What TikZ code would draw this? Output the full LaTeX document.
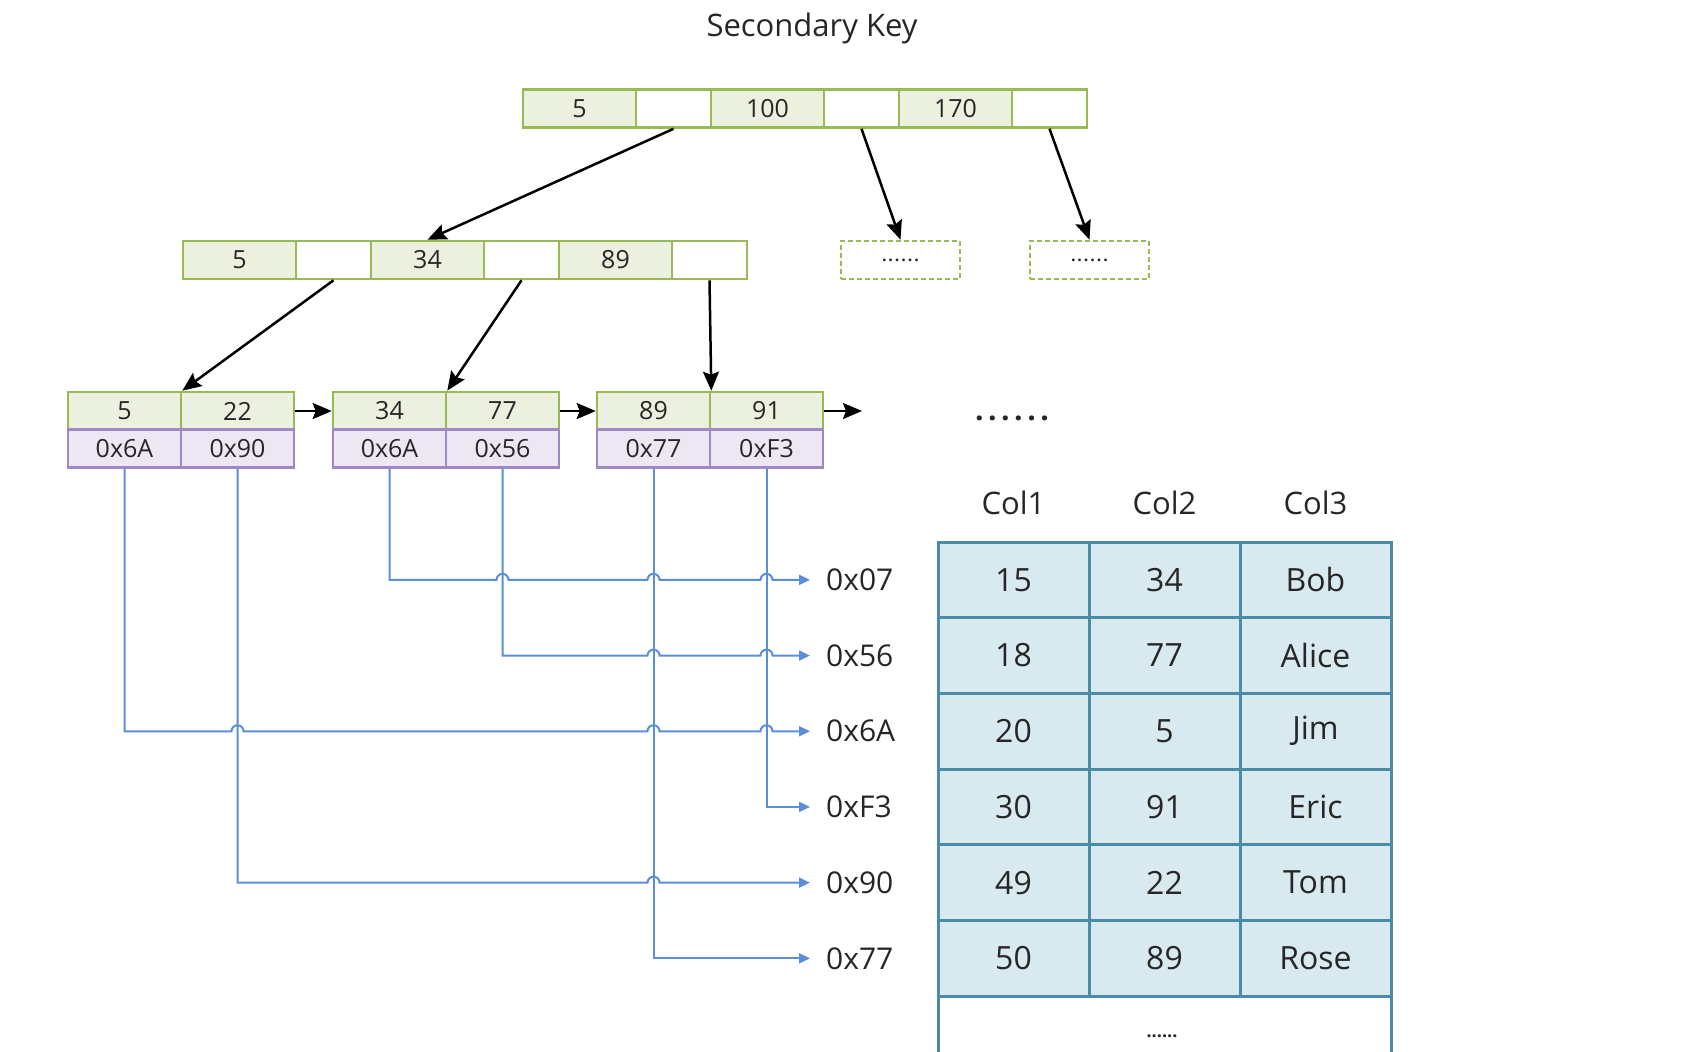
\documentclass[tikz,border=0pt]{standalone}
\usepackage{fontspec}
\setmainfont{Open Sans}
\usetikzlibrary{arrows.meta}
\definecolor{gfill}{HTML}{EBF1DE}
\definecolor{gborder}{HTML}{98B954}
\definecolor{pfill}{HTML}{ECE7F2}
\definecolor{pborder}{HTML}{9F88C4}
\definecolor{tfill}{HTML}{D8E9EF}
\definecolor{tborder}{HTML}{4A8BA5}
\definecolor{lblue}{HTML}{5B8DD9}
\definecolor{txt}{HTML}{262626}
\begin{document}
\begin{tikzpicture}[x=1pt,y=-1pt,
  cell/.style={draw=gborder,fill=gfill,line width=2.6pt,minimum width=113pt,minimum height=38pt,inner sep=0pt,font=\fontsize{25}{30}\selectfont,text=txt},
  blank/.style={cell,fill=white,minimum width=75pt},
  ptr/.style={cell,draw=pborder,fill=pfill},
  dbox/.style={draw=gborder,dash pattern=on 5pt off 3pt,line width=2.6pt,minimum width=119pt,minimum height=38pt,inner sep=0pt,text=txt},
  arr/.style={line width=2.5pt,-{Stealth[length=19pt,width=16pt,inset=3pt]}},
  link/.style={draw=lblue,line width=2pt,-{Triangle[length=11pt,width=10pt]}},
  addr/.style={anchor=west,inner xsep=16pt,inner ysep=0pt,font=\fontsize{30}{36}\selectfont,text=txt},
  tcell/.style={draw=tborder,fill=tfill,line width=3pt,minimum width=151pt,minimum height=75.7pt,inner sep=0pt,font=\fontsize{32}{38}\selectfont,text=txt},
  hdr/.style={font=\fontsize{31}{36}\selectfont,text=txt}
]
\useasboundingbox (0,0) rectangle (1684,1052);
\clip (0,0) rectangle (1684,1052);

\node[font=\fontsize{31}{36}\selectfont,text=txt] (title) at (812,28) {Secondary Key};

% root
\node[cell]  (r1) at (579.5,108.5) {5};
\node[blank] (r2) at (673.5,108.5) {};
\node[cell]  (r3) at (767.5,108.5) {100};
\node[blank] (r4) at (861.5,108.5) {};
\node[cell]  (r5) at (955.5,108.5) {170};
\node[blank] (r6) at (1049.5,108.5) {};

% second level
\node[cell]  (s1) at (239.5,260) {5};
\node[blank] (s2) at (333.5,260) {};
\node[cell]  (s3) at (427.5,260) {34};
\node[blank] (s4) at (521.5,260) {};
\node[cell]  (s5) at (615.5,260) {89};
\node[blank] (s6) at (709.5,260) {};

\node[dbox] (d1) at (900.5,260) {};
\node[dbox] (d2) at (1089.5,260) {};
\node[font=\fontsize{16}{16}\selectfont\bfseries,text=txt] (d1t) at (d1) {\addfontfeatures{LetterSpace=12}......};
\node[font=\fontsize{16}{16}\selectfont\bfseries,text=txt] (d2t) at (d2) {\addfontfeatures{LetterSpace=12}......};

% leaves
\node[cell] (k1a) at (124.5,411) {5};
\node[cell] (k1b) at (237.5,411) {22};
\node[ptr]  (p11) at (124.5,448.5) {0x6A};
\node[ptr]  (p12) at (237.5,448.5) {0x90};

\node[cell] (k2a) at (389.5,411) {34};
\node[cell] (k2b) at (502.5,411) {77};
\node[ptr]  (p21) at (389.5,448.5) {0x6A};
\node[ptr]  (p22) at (502.5,448.5) {0x56};

\node[cell] (k3a) at (653.5,411) {89};
\node[cell] (k3b) at (766.5,411) {91};
\node[ptr]  (p31) at (653.5,448.5) {0x77};
\node[ptr]  (p32) at (766.5,448.5) {0xF3};

\coordinate (lend) at (862,411);

\node[font=\fontsize{30}{36}\selectfont\bfseries,text=txt] (more) at (1012,418) {\addfontfeatures{LetterSpace=15}......};

% tree arrows
\draw[arr] (r2.south) -- (s3.north);
\draw[arr] (r4.south) -- (d1.north);
\draw[arr] (r6.south) -- (d2.north);
\draw[arr] (s2.south) -- (k1a.north east);
\draw[arr] (s4.south) -- (k2a.north east);
\draw[arr] (s6.south) -- (k3a.north east);
\draw[arr] (k1b.east) -- (k2a.west);
\draw[arr] (k2b.east) -- (k3a.west);
\draw[arr] (k3b.east) -- (lend);

% headers
\node[hdr] (h1) at (1013.5,503) {Col1};
\node[hdr] (h2) at (1164.5,503) {Col2};
\node[hdr] (h3) at (1315.5,503) {Col3};

% table
\foreach \r/\y/\a/\b/\c in {1/579.85/15/34/Bob,2/655.55/18/77/Alice,3/731.25/20/5/Jim,4/806.95/30/91/Eric,5/882.65/49/22/Tom,6/958.35/50/89/Rose}{
  \node[tcell] (t\r a) at (1013.5,\y) {\a};
  \node[tcell] (t\r b) at (1164.5,\y) {\b};
  \node[tcell] (t\r c) at (1315.5,\y) {\c};
}
\node[tcell,fill=white,minimum width=453pt] (t7) at (1164.5,1034.05) {};
\node[font=\fontsize{18}{20}\selectfont\bfseries,text=txt] (tdots) at (1162,1036) {......};

% address labels
\node[addr] (l07) at (810,579.85) {0x07};
\node[addr] (l56) at (810,655.55) {0x56};
\node[addr] (l6A) at (810,731.25) {0x6A};
\node[addr] (lF3) at (810,806.95) {0xF3};
\node[addr] (l90) at (810,882.65) {0x90};
\node[addr] (l77) at (810,958.35) {0x77};

% links
\draw[link] (p11.south) -- (p11.south |- l6A.west)
  -- ([xshift=-6pt]p12.south |- l6A.west) arc[start angle=180,end angle=0,radius=6pt]
  -- ([xshift=-6pt]p31.south |- l6A.west) arc[start angle=180,end angle=0,radius=6pt]
  -- ([xshift=-6pt]p32.south |- l6A.west) arc[start angle=180,end angle=0,radius=6pt]
  -- (l6A.west);
\draw[link] (p12.south) -- (p12.south |- l90.west)
  -- ([xshift=-6pt]p31.south |- l90.west) arc[start angle=180,end angle=0,radius=6pt]
  -- (l90.west);
\draw[link] (p21.south) -- (p21.south |- l07.west)
  -- ([xshift=-6pt]p22.south |- l07.west) arc[start angle=180,end angle=0,radius=6pt]
  -- ([xshift=-6pt]p31.south |- l07.west) arc[start angle=180,end angle=0,radius=6pt]
  -- ([xshift=-6pt]p32.south |- l07.west) arc[start angle=180,end angle=0,radius=6pt]
  -- (l07.west);
\draw[link] (p22.south) -- (p22.south |- l56.west)
  -- ([xshift=-6pt]p31.south |- l56.west) arc[start angle=180,end angle=0,radius=6pt]
  -- ([xshift=-6pt]p32.south |- l56.west) arc[start angle=180,end angle=0,radius=6pt]
  -- (l56.west);
\draw[link] (p31.south) |- (l77.west);
\draw[link] (p32.south) |- (lF3.west);
\end{tikzpicture}
\end{document}
